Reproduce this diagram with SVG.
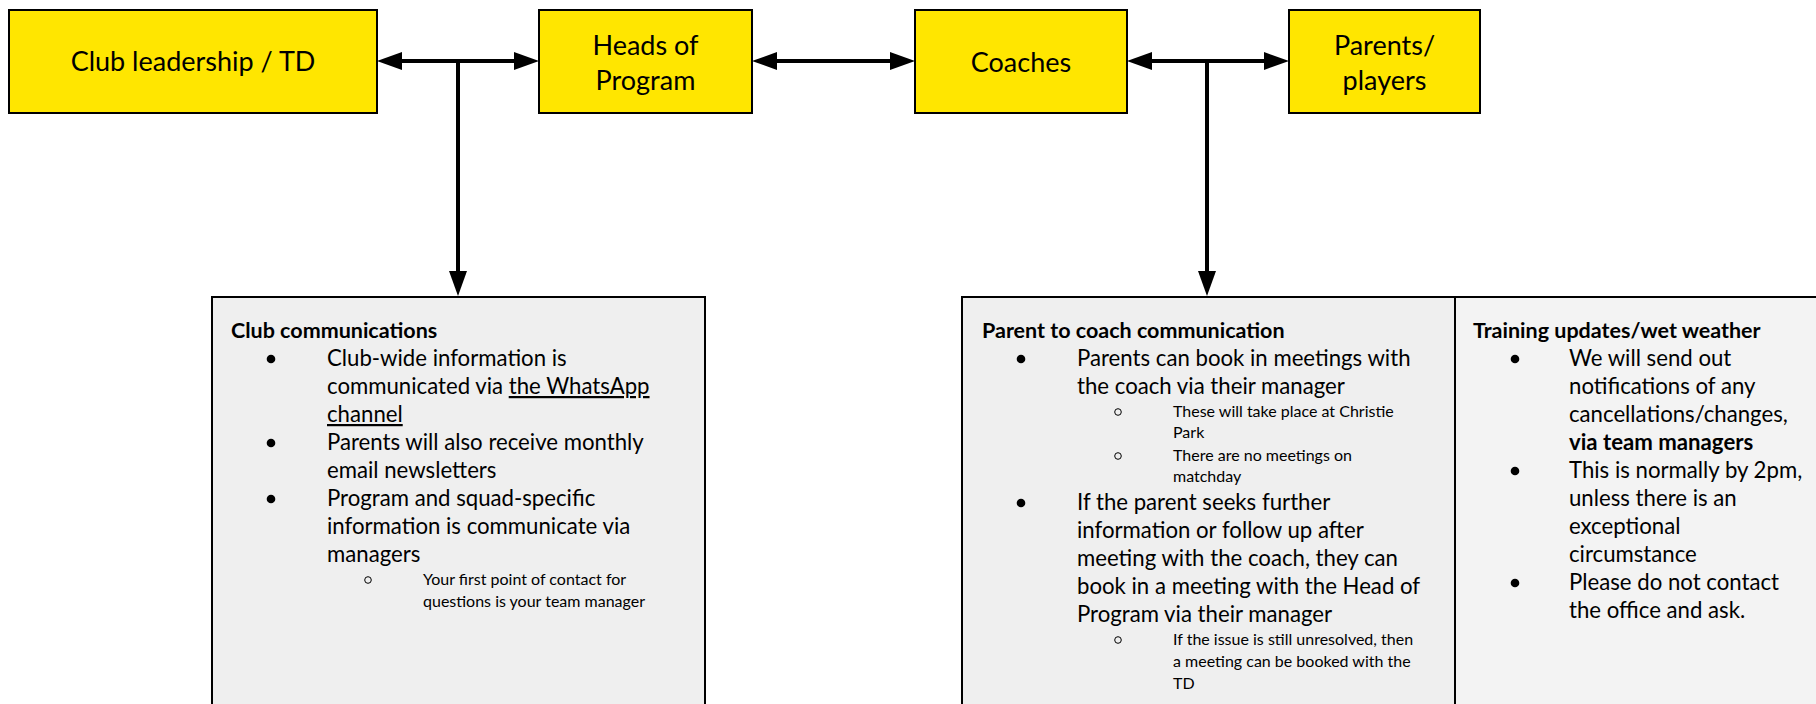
<svg xmlns="http://www.w3.org/2000/svg" width="1816" height="704" viewBox="0 0 1816 704">
<style>
.node{fill:#ffe600;stroke:#000;stroke-width:2}
.panel{fill:#efefef;stroke:#000;stroke-width:2}
.panel3{fill:#f3f3f3;stroke:#000;stroke-width:2}
.lbl{font-family:Lato,"Liberation Sans",sans-serif;font-size:27px;fill:#000;text-anchor:middle}
.t{font-family:Lato,"Liberation Sans",sans-serif;font-size:22.2px;fill:#000}
.h{font-family:Lato,"Liberation Sans",sans-serif;font-size:21.5px;font-weight:bold;fill:#000}
.s{font-family:Lato,"Liberation Sans",sans-serif;font-size:16px;fill:#000}
.b{font-weight:bold}
.u{text-decoration:underline}
.ln{stroke:#000;stroke-width:4;fill:none}
.ah{fill:#000}
.sb{fill:none;stroke:#000;stroke-width:1}
</style>
<rect width="1816" height="704" fill="#fff"/>
<g id="connectors">
<line class="ln" x1="395" y1="61" x2="521" y2="61"/>
<polygon class="ah" points="377,61 402,52 402,70"/>
<polygon class="ah" points="539,61 514,52 514,70"/>
<line class="ln" x1="770" y1="61" x2="897" y2="61"/>
<polygon class="ah" points="752,61 777,52 777,70"/>
<polygon class="ah" points="915,61 890,52 890,70"/>
<line class="ln" x1="1145" y1="61" x2="1271" y2="61"/>
<polygon class="ah" points="1127,61 1152,52 1152,70"/>
<polygon class="ah" points="1289,61 1264,52 1264,70"/>
<line class="ln" x1="458" y1="61" x2="458" y2="278"/>
<polygon class="ah" points="458,296 449,271 467,271"/>
<line class="ln" x1="1207" y1="61" x2="1207" y2="278"/>
<polygon class="ah" points="1207,296 1198,271 1216,271"/>
</g>
<g id="club-leadership">
<rect class="node" x="9" y="10" width="368" height="103"/>
<text class="lbl" x="193" y="71">Club leadership / TD</text>
</g>
<g id="heads-of-program">
<rect class="node" x="539" y="10" width="213" height="103"/>
<text class="lbl" x="645.5" y="55">Heads of</text>
<text class="lbl" x="645.5" y="90">Program</text>
</g>
<g id="coaches">
<rect class="node" x="915" y="10" width="212" height="103"/>
<text class="lbl" x="1021" y="72">Coaches</text>
</g>
<g id="parents-players">
<rect class="node" x="1289" y="10" width="191" height="103"/>
<text class="lbl" x="1384.5" y="55">Parents/</text>
<text class="lbl" x="1384.5" y="90">players</text>
</g>
<g id="club-communications">
<rect class="panel" x="212" y="297" width="493" height="420"/>
<text class="h" x="231" y="338">Club communications</text>
<circle cx="271" cy="359" r="4.3"/>
<text class="t" x="327" y="366">Club-wide information is</text>
<text class="t" x="327" y="394">communicated via <tspan class="u">the WhatsApp</tspan></text>
<text class="t" x="327" y="422"><tspan class="u">channel</tspan></text>
<circle cx="271" cy="443" r="4.3"/>
<text class="t" x="327" y="450">Parents will also receive monthly</text>
<text class="t" x="327" y="478">email newsletters</text>
<circle cx="271" cy="499" r="4.3"/>
<text class="t" x="327" y="506">Program and squad-specific</text>
<text class="t" x="327" y="534">information is communicate via</text>
<text class="t" x="327" y="562">managers</text>
<circle class="sb" cx="368" cy="580" r="3.3"/>
<text class="s" x="423" y="585">Your first point of contact for</text>
<text class="s" x="423" y="607">questions is your team manager</text>
</g>
<g id="parent-to-coach">
<rect class="panel" x="962" y="297" width="493" height="420"/>
<text class="h" x="982" y="338">Parent to coach communication</text>
<circle cx="1021" cy="359" r="4.3"/>
<text class="t" x="1077" y="366">Parents can book in meetings with</text>
<text class="t" x="1077" y="394">the coach via their manager</text>
<circle class="sb" cx="1118" cy="412" r="3.3"/>
<text class="s" x="1173" y="417">These will take place at Christie</text>
<text class="s" x="1173" y="438">Park</text>
<circle class="sb" cx="1118" cy="456" r="3.3"/>
<text class="s" x="1173" y="461">There are no meetings on</text>
<text class="s" x="1173" y="482">matchday</text>
<circle cx="1021" cy="503" r="4.3"/>
<text class="t" x="1077" y="510">If the parent seeks further</text>
<text class="t" x="1077" y="538">information or follow up after</text>
<text class="t" x="1077" y="566">meeting with the coach, they can</text>
<text class="t" x="1077" y="594">book in a meeting with the Head of</text>
<text class="t" x="1077" y="622">Program via their manager</text>
<circle class="sb" cx="1118" cy="640" r="3.3"/>
<text class="s" x="1173" y="645">If the issue is still unresolved, then</text>
<text class="s" x="1173" y="667">a meeting can be booked with the</text>
<text class="s" x="1173" y="689">TD</text>
</g>
<g id="training-updates">
<rect class="panel3" x="1455" y="297" width="380" height="420"/>
<text class="h" x="1473" y="338">Training updates/wet weather</text>
<circle cx="1515" cy="359" r="4.3"/>
<text class="t" x="1569" y="366">We will send out</text>
<text class="t" x="1569" y="394">notifications of any</text>
<text class="t" x="1569" y="422">cancellations/changes,</text>
<text class="t b" x="1569" y="450">via team managers</text>
<circle cx="1515" cy="471" r="4.3"/>
<text class="t" x="1569" y="478">This is normally by 2pm,</text>
<text class="t" x="1569" y="506">unless there is an</text>
<text class="t" x="1569" y="534">exceptional</text>
<text class="t" x="1569" y="562">circumstance</text>
<circle cx="1515" cy="583" r="4.3"/>
<text class="t" x="1569" y="590">Please do not contact</text>
<text class="t" x="1569" y="618">the office and ask.</text>
</g>
</svg>
